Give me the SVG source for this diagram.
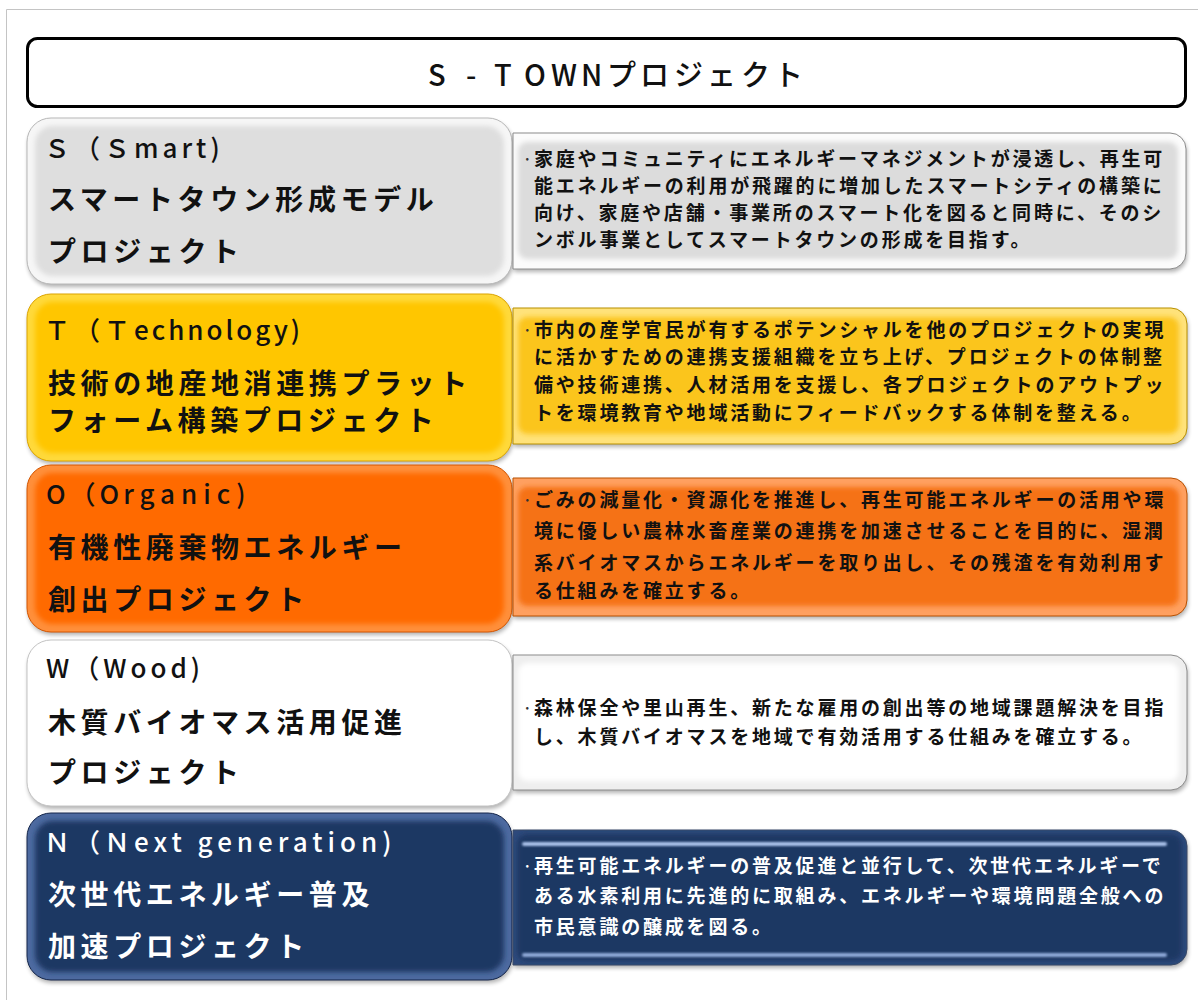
<svg xmlns="http://www.w3.org/2000/svg" width="1198" height="1000" viewBox="0 0 1198 1000">
<style>
.ttl{font-family:"Noto Sans CJK JP","Noto Sans CJK SC",sans-serif;font-size:29px;font-weight:500;fill:#111;}
.hd{font-family:"Noto Sans CJK JP","Noto Sans CJK SC",sans-serif;font-size:26px;font-weight:500;letter-spacing:4px;fill:#111;}
.nm{font-family:"Noto Sans CJK JP","Noto Sans CJK SC",sans-serif;font-size:28px;font-weight:700;letter-spacing:4.6px;fill:#111;}
.ds{font-family:"Noto Sans CJK JP","Noto Sans CJK SC",sans-serif;font-size:19px;font-weight:700;letter-spacing:2.8px;fill:#111;}
.dot{font-family:"Noto Sans CJK JP","Noto Sans CJK SC",sans-serif;font-size:19px;fill:#333;}
.wt{fill:#fff;}
.shd{fill:#000;opacity:0.3;filter:url(#blur2);}
.face{filter:url(#soft);}
.bar{filter:url(#blur1);}
</style>
<defs>
<filter id="blur2" x="-5%" y="-10%" width="110%" height="120%"><feGaussianBlur stdDeviation="2"/></filter>
<filter id="soft" x="-5%" y="-10%" width="110%" height="120%"><feGaussianBlur stdDeviation="2.5"/></filter>
<filter id="blur1" x="-5%" y="-100%" width="110%" height="300%"><feGaussianBlur stdDeviation="1"/></filter>
</defs>
<rect width="1198" height="1000" fill="#fff"/>
<path d="M6.5,1000V9.5H1198" fill="none" stroke="#c4c4c4" stroke-width="1"/>

<g id="title">
<rect x="27.5" y="38.5" width="1158" height="68" rx="10" fill="#fff" stroke="#000" stroke-width="3"/>
<text class="ttl" y="86" x="428 446 466 475 494 524 551 581 607 640 674 707 741 774">S - TOWNプロジェクト</text>
</g>

<g id="connectors"></g>

<!-- S row -->
<g id="node-s">
<rect class="shd" x="28" y="121" width="485" height="166" rx="24"/>
<rect x="27" y="118" width="485" height="166" rx="24" fill="#f6f6f6" stroke="#b8b8b8"/>
<rect class="face" x="35" y="126" width="469" height="150" rx="18" fill="#dedede"/>
<text class="hd" x="44" y="158">Ｓ（Ｓmart)</text>
<text class="nm" x="48" y="210">スマートタウン形成モデル</text>
<text class="nm" x="48" y="262">プロジェクト</text>
</g>
<g id="desc-s">
<path class="shd" d="M514,136H1171A16,16 0 0 1 1187,152V256A16,16 0 0 1 1171,272H514Z"/>
<path d="M513,133H1170A16,16 0 0 1 1186,149V253A16,16 0 0 1 1170,269H513Z" fill="#fbfbfb" stroke="#8c8c8c"/>
<rect class="face" x="518" y="142" width="660" height="117" rx="9" fill="#dcdcdc"/>
<text class="dot" x="522" y="166">·</text>
<text class="ds" x="534" y="166">家庭やコミュニティにエネルギーマネジメントが浸透し、再生可</text>
<text class="ds" x="534" y="193">能エネルギーの利用が飛躍的に増加したスマートシティの構築に</text>
<text class="ds" x="534" y="220">向け、家庭や店舗・事業所のスマート化を図ると同時に、そのシ</text>
<text class="ds" x="534" y="247">ンボル事業としてスマートタウンの形成を目指す。</text>
</g>

<!-- T row -->
<g id="node-t">
<rect class="shd" x="28" y="297" width="485" height="167" rx="24"/>
<rect x="27" y="294" width="485" height="167" rx="24" fill="#ffd93a" stroke="#dca400"/>
<rect class="face" x="35" y="302" width="469" height="151" rx="18" fill="#ffc600"/>
<text class="hd" x="44" y="340">Ｔ（Ｔ<tspan letter-spacing="3">echnology)</tspan></text>
<text class="nm" x="48" y="394">技術の地産地消連携プラット</text>
<text class="nm" x="48" y="431">フォーム構築プロジェクト</text>
</g>
<g id="desc-t">
<path class="shd" d="M514,311H1172A16,16 0 0 1 1188,327V431A16,16 0 0 1 1172,447H514Z"/>
<path d="M513,308H1171A16,16 0 0 1 1187,324V428A16,16 0 0 1 1171,444H513Z" fill="#ffe27a" stroke="#b89000"/>
<rect class="face" x="518" y="317" width="661" height="117" rx="9" fill="#fbc51e"/>
<text class="dot" x="522" y="337">·</text>
<text class="ds" x="534" y="337">市内の産学官民が有するポテンシャルを他のプロジェクトの実現</text>
<text class="ds" x="534" y="364">に活かすための連携支援組織を立ち上げ、プロジェクトの体制整</text>
<text class="ds" x="534" y="392">備や技術連携、人材活用を支援し、各プロジェクトのアウトプッ</text>
<text class="ds" x="534" y="420">トを環境教育や地域活動にフィードバックする体制を整える。</text>
</g>

<!-- O row -->
<g id="node-o">
<rect class="shd" x="28" y="468" width="485" height="167" rx="24"/>
<rect x="27" y="465" width="485" height="167" rx="24" fill="#ff8f3a" stroke="#d45500"/>
<rect class="face" x="35" y="473" width="469" height="151" rx="18" fill="#ff6a00"/>
<text class="hd" x="46" y="504" letter-spacing="3">O（O<tspan letter-spacing="6">rganic)</tspan></text>
<text class="nm" x="48" y="558">有機性廃棄物エネルギー</text>
<text class="nm" x="48" y="610">創出プロジェクト</text>
</g>
<g id="desc-o">
<path class="shd" d="M514,481H1172A16,16 0 0 1 1188,497V603A16,16 0 0 1 1172,619H514Z"/>
<path d="M513,478H1171A16,16 0 0 1 1187,494V600A16,16 0 0 1 1171,616H513Z" fill="#ffa060" stroke="#b85000"/>
<rect class="face" x="518" y="487" width="661" height="119" rx="9" fill="#f57218"/>
<text class="dot" x="522" y="507">·</text>
<text class="ds" x="534" y="507">ごみの減量化・資源化を推進し、再生可能エネルギーの活用や環</text>
<text class="ds" x="534" y="538">境に優しい農林水畜産業の連携を加速させることを目的に、湿潤</text>
<text class="ds" x="534" y="570">系バイオマスからエネルギーを取り出し、その残渣を有効利用す</text>
<text class="ds" x="534" y="598">る仕組みを確立する。</text>
</g>

<!-- W row -->
<g id="node-w">
<rect class="shd" x="28" y="643" width="485" height="166" rx="24"/>
<rect x="27" y="640" width="485" height="166" rx="24" fill="#ffffff" stroke="#c4c4c4"/>
<rect class="face" x="35" y="648" width="469" height="150" rx="18" fill="#ffffff"/>
<text class="hd" x="46" y="678" letter-spacing="1">W（Wood)</text>
<text class="nm" x="48" y="733">木質バイオマス活用促進</text>
<text class="nm" x="48" y="783">プロジェクト</text>
</g>
<g id="desc-w">
<path class="shd" d="M514,658H1172A16,16 0 0 1 1188,674V777A16,16 0 0 1 1172,793H514Z"/>
<path d="M513,655H1171A16,16 0 0 1 1187,671V774A16,16 0 0 1 1171,790H513Z" fill="#eeeeee" stroke="#8c8c8c"/>
<rect class="face" x="518" y="663" width="661" height="118" rx="9" fill="#ffffff"/>
<text class="dot" x="522" y="715">·</text>
<text class="ds" x="534" y="715">森林保全や里山再生、新たな雇用の創出等の地域課題解決を目指</text>
<text class="ds" x="534" y="744">し、木質バイオマスを地域で有効活用する仕組みを確立する。</text>
</g>

<!-- N row -->
<g id="node-n">
<rect class="shd" x="28" y="816" width="485" height="167" rx="24"/>
<rect x="27" y="813" width="485" height="167" rx="24" fill="#4d6aa0" stroke="#14254a"/>
<rect class="face" x="35" y="821" width="469" height="151" rx="18" fill="#1f3864"/>
<text class="hd wt" x="44" y="852">Ｎ（Ｎ<tspan letter-spacing="5">ext generation)</tspan></text>
<text class="nm wt" x="48" y="905">次世代エネルギー普及</text>
<text class="nm wt" x="48" y="957">加速プロジェクト</text>
</g>
<g id="desc-n">
<path class="shd" d="M514,833H1172A16,16 0 0 1 1188,849V952A16,16 0 0 1 1172,968H514Z"/>
<path d="M513,830H1171A16,16 0 0 1 1187,846V949A16,16 0 0 1 1171,965H513Z" fill="#2e4a7c" stroke="#3a4a66"/>
<rect class="face" x="517" y="834" width="665" height="127" rx="10" fill="#1f3864"/>
<rect class="bar" x="522" y="842" width="645" height="4" rx="2" fill="#a9c1ea"/>
<rect class="bar" x="522" y="953" width="645" height="4" rx="2" fill="#8fa9d8"/>
<text class="dot wt" x="522" y="873">·</text>
<text class="ds wt" x="534" y="873">再生可能エネルギーの普及促進と並行して、次世代エネルギーで</text>
<text class="ds wt" x="534" y="903">ある水素利用に先進的に取組み、エネルギーや環境問題全般への</text>
<text class="ds wt" x="534" y="934">市民意識の醸成を図る。</text>
</g>
</svg>
